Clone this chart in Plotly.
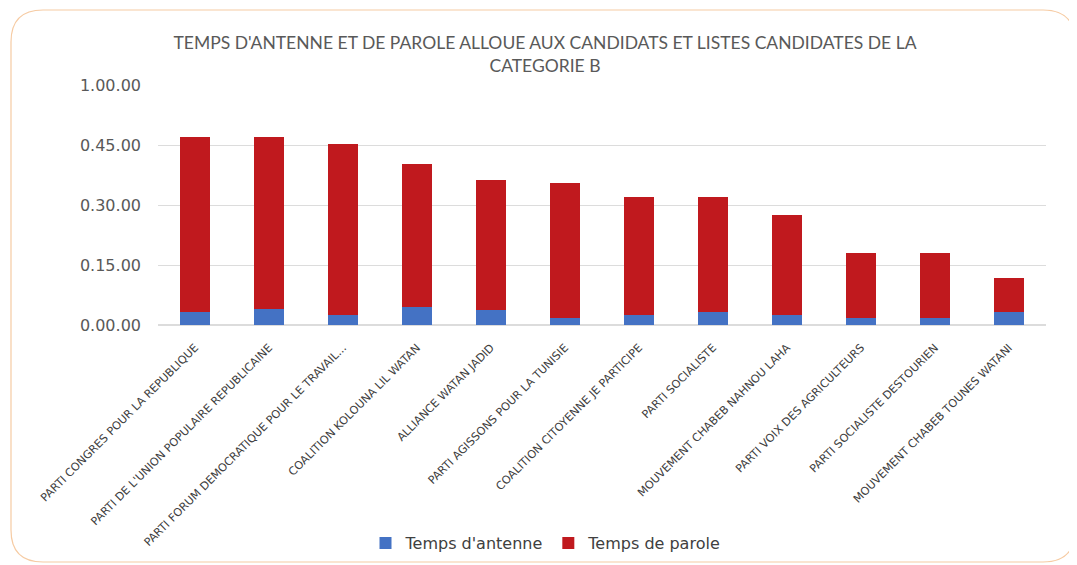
import plotly.graph_objects as go

categories = [
    "PARTI CONGRES POUR LA REPUBLIQUE",
    "PARTI DE L'UNION POPULAIRE REPUBLICAINE",
    "PARTI FORUM DEMOCRATIQUE POUR LE TRAVAIL...",
    "COALITION KOLOUNA LIL WATAN",
    "ALLIANCE WATAN JADID",
    "PARTI AGISSONS POUR LA TUNISIE",
    "COALITION CITOYENNE JE PARTICIPE",
    "PARTI SOCIALISTE",
    "MOUVEMENT CHABEB NAHNOU LAHA",
    "PARTI VOIX DES AGRICULTEURS",
    "PARTI SOCIALISTE DESTOURIEN",
    "MOUVEMENT CHABEB TOUNES WATANI",
]
# minutes
temps_antenne = [3.2, 4.0, 2.5, 4.4, 3.75, 1.8, 2.5, 3.2, 2.5, 1.8, 1.8, 3.2]
temps_parole = [43.7, 42.9, 42.7, 35.9, 32.45, 33.8, 29.6, 28.9, 25.0, 16.1, 16.1, 8.6]

tick_vals = [0, 15, 30, 45, 60]
tick_text = ["0.00.00", "0.15.00", "0.30.00", "0.45.00", "1.00.00"]

O = 8  # page body margin
W, H = 1077 - O, 565 - O
ML, MT = 158 - O, 85 - O
PR, PB = 1046 - O, 325 - O
MR, MB = W - PR, H - PB
PW, PH = PR - ML, PB - MT


def px(x):
    return (x - O - ML) / PW


def py(y):
    return (PB - (y - O)) / PH


fig = go.Figure()
fig.add_trace(go.Bar(name="Temps d'antenne", x=categories, y=temps_antenne,
                     marker=dict(color="#4472C4", line=dict(width=0))))
fig.add_trace(go.Bar(name="Temps de parole", x=categories, y=temps_parole,
                     marker=dict(color="#C0191E", line=dict(width=0))))

# rounded frame
x0, x1, y0, y1, r = 11, 1075, 10, 562, 32
path = (f"M {px(x0 + r)} {py(y0)} L {px(x1 - r)} {py(y0)} "
        f"Q {px(x1)} {py(y0)} {px(x1)} {py(y0 + r)} "
        f"L {px(x1)} {py(y1 - r)} Q {px(x1)} {py(y1)} {px(x1 - r)} {py(y1)} "
        f"L {px(x0 + r)} {py(y1)} Q {px(x0)} {py(y1)} {px(x0)} {py(y1 - r)} "
        f"L {px(x0)} {py(y0 + r)} Q {px(x0)} {py(y0)} {px(x0 + r)} {py(y0)} Z")

fig.update_layout(
    width=W, height=H,
    margin=dict(l=ML, r=MR, t=MT, b=MB, autoexpand=False),
    barmode="stack",
    bargap=0.6,
    plot_bgcolor="white",
    paper_bgcolor="white",
    font=dict(family="DejaVu Sans, sans-serif", color="#595959"),
    title=dict(
        text="TEMPS D'ANTENNE ET DE PAROLE ALLOUE AUX CANDIDATS ET LISTES CANDIDATES DE LA<br>CATEGORIE B",
        x=(545 - O) / W, xanchor="center", y=1 - (49 - O) / H, yanchor="middle",
        font=dict(size=17.5, color="#595959", family="Lato, sans-serif"),
    ),
    xaxis=dict(
        tickangle=-45, automargin=False,
        tickfont=dict(size=11.2, color="#404040", family="DejaVu Sans, sans-serif"),
        showgrid=False, showline=False, ticks="",
        ticklabelstandoff=13,
    ),
    yaxis=dict(
        range=[0, 60], tickvals=tick_vals, ticktext=tick_text, automargin=False,
        showgrid=True, gridcolor="#DCDCDC", gridwidth=1,
        zeroline=True, zerolinecolor="#DCDCDC",
        tickfont=dict(size=16, color="#595959", family="DejaVu Sans, sans-serif"),
        ticklabelstandoff=16,
    ),
    legend=dict(orientation="h", x=px(546), xanchor="center", y=py(543), yanchor="middle",
                bgcolor="rgba(0,0,0,0)",
                font=dict(size=16, color="#404040", family="DejaVu Sans, sans-serif"),
                itemwidth=30, traceorder="normal"),
    shapes=[dict(type="path", xref="paper", yref="paper", path=path,
                 line=dict(color="#F6CBA3", width=1.2), layer="below")],
)

fig.write_html("out.html")
